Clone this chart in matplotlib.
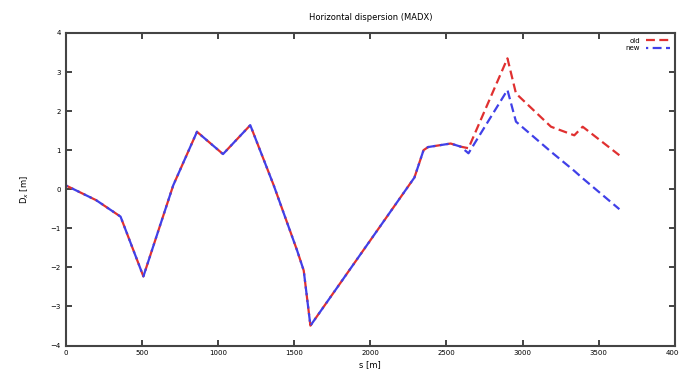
import numpy as np
import matplotlib.pyplot as plt

s = [0, 200, 360, 510, 706, 862, 1033, 1212, 1366, 1519, 1563, 1607,
     2290, 2350, 2380, 2528, 2594, 2645, 2901, 2957, 3187, 3340, 3395, 3636]
d_old = [0.1, -0.28, -0.7, -2.23, 0.1, 1.47, 0.9, 1.64, 0.1, -1.56, -2.08, -3.49,
         0.3, 1.0, 1.08, 1.17, 1.09, 1.05, 3.35, 2.45, 1.6, 1.38, 1.6, 0.87]
d_new = [0.1, -0.28, -0.7, -2.23, 0.1, 1.47, 0.9, 1.64, 0.1, -1.56, -2.08, -3.49,
         0.3, 1.0, 1.08, 1.17, 1.09, 0.92, 2.54, 1.73, 0.96, 0.47, 0.28, -0.51]

xticks = [0, 500, 1000, 1500, 2000, 2500, 3000, 3500, 4000]
yticks = [-4, -3, -2, -1, 0, 1, 2, 3, 4]

fig = plt.figure(figsize=(6.79, 3.70), dpi=100)
ax = fig.add_axes([0.0968, 0.066, 0.897, 0.845])

ax.plot(s, d_old, color='#e03030', lw=1.6, linestyle=(0, (4, 2)), label='old')
ax.plot(s, d_new, color='#4040e8', lw=1.6, linestyle=(3, (4, 2)), label='new')

ax.set_xlim(0, 4000)
ax.set_ylim(-4, 4)
ax.set_xticks(xticks)
ax.set_yticks(yticks)
ax.tick_params(direction='in', top=True, right=True, labelsize=5, length=4, width=1.2, color='#222222')
for sp in ax.spines.values():
    sp.set_linewidth(1.5)
    sp.set_color('#444444')

ax.set_title('Horizontal dispersion (MADX)', fontsize=6, pad=9)
ax.set_xlabel('s [m]', fontsize=6, labelpad=3)
ax.set_ylabel('D$_x$ [m]', fontsize=6, labelpad=14)
ax.legend(loc='upper right', frameon=False, fontsize=5, markerfirst=False, handlelength=3.5,
          borderaxespad=0.3, labelspacing=0.2)

fig.savefig('out.png', dpi=100)
